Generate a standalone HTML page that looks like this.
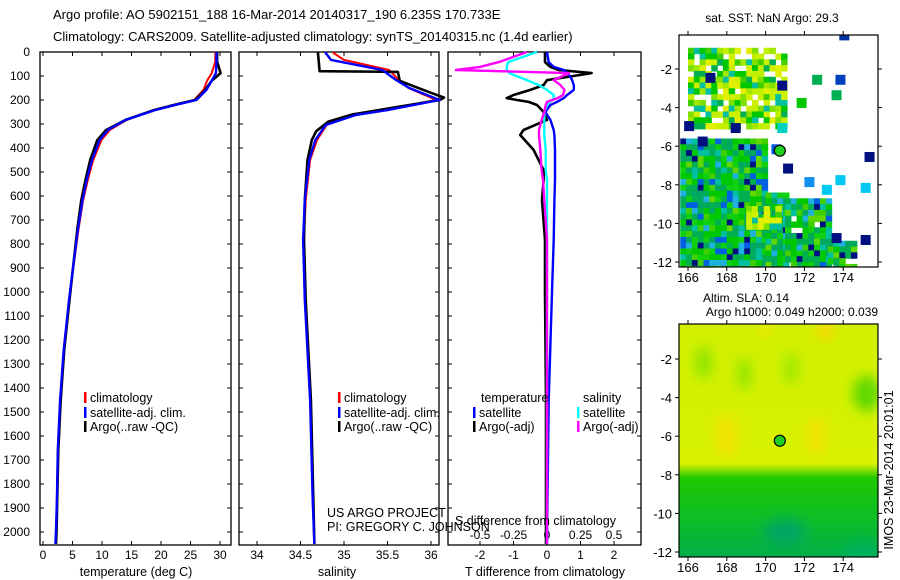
<!DOCTYPE html>
<html><head><meta charset="utf-8"><style>
html,body{margin:0;padding:0;background:#fff;}
svg{display:block;font-family:"Liberation Sans",sans-serif;}
text{fill:#000;}
</style></head><body>
<svg id="c" width="900" height="580" viewBox="0 0 900 580" xmlns="http://www.w3.org/2000/svg">
<text x="53" y="19" font-size="13">Argo profile: AO 5902151_188 16-Mar-2014 20140317_190 6.235S 170.733E</text>
<text x="53" y="41" font-size="13">Climatology: CARS2009. Satellite-adjusted climatology: synTS_20140315.nc (1.4d earlier)</text>
<g id="g"></g>
</svg>
<script>
const depthT=[0,40,88,120,158,200,220,242,283,325,367,450,533,617,742,1033,1242,1450,1658,1867,1992,2050];
const tempAdj=[29.4,29.4,29.3,28.6,27.7,26,22.5,19,14,11,9.6,8.3,7.4,6.7,5.9,4.4,3.5,2.9,2.5,2.35,2.2,2.1];
const tempClim=[29.2,29.2,28.6,27.8,27.2,25.6,22.2,18.8,14.2,11.3,9.9,8.5,7.6,6.8,6.0,4.4,3.5,2.9,2.5,2.35,2.2,2.1];
const tempArgo=[29.5,29.5,30.1,28.6,27.5,25.8,22.3,18.8,14.0,10.7,9.2,8.0,7.2,6.5,5.8,4.5,3.6,3.0,2.6,2.4,2.3,2.2];
const depthS=[0,4,33,75,117,150,200,242,262,304,367,450,617,783,1033,1450,1867,2050];
const salAdj=[34.79,34.79,34.85,35.44,35.6,35.75,36.1,35.5,35.14,34.79,34.67,34.6,34.55,34.53,34.55,34.61,34.64,34.66];
const salClim=[34.88,34.88,35.0,35.52,35.63,35.74,36.06,35.45,35.1,34.8,34.69,34.61,34.56,34.54,34.55,34.61,34.64,34.66];
const depthSA=[0,80,83,120,140,170,190,200,230,260,290,330,367,450,617,783,1033,1450,2050];
const salArgo=[34.70,34.72,35.62,35.64,35.78,36.0,36.15,36.1,35.6,35.1,34.82,34.68,34.63,34.58,34.55,34.54,34.56,34.62,34.66];
const depthD=[0,42,62,75,88,104,117,138,158,179,192,200,208,221,250,283,325,346,408,492,533,617,783,1000,1450,2050];
const dTsat=[0,0.05,0.2,0.5,0.6,0.7,0.75,0.8,0.8,0.6,0.5,0.4,0.3,0.1,-0.05,0.1,0.2,0.22,0.24,0.24,0.24,0.22,0.2,0.15,0.05,0];
const dTargo=[-0.06,-0.06,0.1,0.36,1.33,0.6,0,-0.1,-0.5,-1.0,-1.2,-0.9,-0.55,-0.3,-0.1,0,-0.7,-0.8,-0.4,-0.1,-0.1,-0.15,-0.06,-0.06,-0.03,-0.03];
const dSsat=[-0.075,-0.29,-0.3,-0.3,-0.28,-0.21,-0.15,-0.06,0.0,0.05,0.05,0.04,0.02,0,-0.02,-0.02,-0.02,-0.02,-0.01,-0.01,0,0,0,0,0,0];
const dSargo=[-0.15,-0.36,-0.5,-0.68,0.165,0.1,0.05,0.1,0.13,0.12,0.08,0.04,0.0,-0.01,-0.02,-0.04,-0.06,-0.06,-0.05,-0.04,-0.03,-0.02,0,0,0,0];
const depthTicks=[0,100,200,300,400,500,600,700,800,900,1000,1100,1200,1300,1400,1500,1600,1700,1800,1900,2000];
const tempTicks=[0,5,10,15,20,25,30];
const salTicks=[34,34.5,35,35.5,36];
const dTTicks=[-2,-1,0,1,2];
const dSTicks=[-0.5,-0.25,0,0.25,0.5];
const mapLatTicks=[-2,-4,-6,-8,-10,-12];
const mapLonTicks=[166,168,170,172,174];
const floatLon=170.733, floatLat=-6.235;

const NS="http://www.w3.org/2000/svg";
const G=document.getElementById('g');
function el(t,a,p){const e=document.createElementNS(NS,t);for(const k in a)e.setAttribute(k,a[k]);(p||G).appendChild(e);return e;}
const yD=d=>52+d*0.24;
const xT=t=>43+5.9*t;
const xS=s=>257+87*(s-34);
const xDT=t=>547+33.5*t;
const xDS=s=>547+134*s;

const panels=[[40,231,'temperature-panel'],[239,439,'salinity-panel'],[448,641,'difference-panel']];
panels.forEach(p=>{
  const r=el('rect',{x:p[0],y:52,width:p[1]-p[0],height:493,fill:'none',stroke:'#000','stroke-width':1.3});
  
  
  depthTicks.forEach(d=>{
    el('line',{x1:p[0],x2:p[0]+4,y1:yD(d),y2:yD(d),stroke:'#000'});
    el('line',{x1:p[1],x2:p[1]-4,y1:yD(d),y2:yD(d),stroke:'#000'});
  });
});
depthTicks.forEach(d=>{
  const t=el('text',{x:30,y:yD(d)+4,'font-size':12,'text-anchor':'end'});t.textContent=d;
  
  
});
function xticks(arr,fx,y,labels,fs){
  arr.forEach((v,i)=>{
    el('line',{x1:fx(v),x2:fx(v),y1:545,y2:541,stroke:'#000'});
    el('line',{x1:fx(v),x2:fx(v),y1:52,y2:56,stroke:'#000'});
    if(labels){const t=el('text',{x:fx(v),y:y,'font-size':fs||12,'text-anchor':'middle'});t.textContent=labels[i];
    
    }
  });
}
xticks(tempTicks,xT,559,tempTicks);
xticks(salTicks,xS,559,salTicks);
xticks(dTTicks,xDT,559,dTTicks);
dSTicks.forEach(v=>{const t=el('text',{x:xDS(v),y:539,'font-size':12,'text-anchor':'middle'});t.textContent=v;
  
  });

function line(ds,vs,fx,col,w,name){
  const pts=ds.map((d,i)=>fx(vs[i]).toFixed(1)+','+yD(d).toFixed(1)).join(' ');
  const e=el('polyline',{points:pts,fill:'none',stroke:col,'stroke-width':w,'stroke-linejoin':'round'});
  
  
}
line(depthT,tempClim,xT,'#ff0000',2,'temp-climatology-line');
line(depthT,tempArgo,xT,'#000',2.6,'temp-argo-line');
line(depthT,tempAdj,xT,'#0000ff',2.4,'temp-satellite-adj-line');
line(depthS,salClim,xS,'#ff0000',2,'sal-climatology-line');
line(depthSA,salArgo,xS,'#000',2.6,'sal-argo-line');
line(depthS,salAdj,xS,'#0000ff',2.4,'sal-satellite-adj-line');
line(depthD,dTargo,xDT,'#000',2.6,'t-diff-argo-line');
line(depthD,dTsat,xDT,'#0000ff',2.4,'t-diff-satellite-line');
line(depthD,dSsat,xDS,'#00ffff',2.4,'s-diff-satellite-line');
line(depthD,dSargo,xDS,'#ff00ff',2.4,'s-diff-argo-line');

function txt(x,y,s,fs,name,anchor){const t=el('text',{x:x,y:y,'font-size':fs,'text-anchor':anchor||'start'});t.textContent=s;
  
  return t;}
function legend(x,y,col,s,name){el('rect',{x:x-6,y:y-10,width:2.5,height:11,fill:col});txt(x,y,s,12.5,name);}
[[90],[344]].forEach(([lx])=>{
  legend(lx,402,'#ff0000','climatology','legend-climatology');
  legend(lx,417,'#0000ff','satellite-adj. clim.','legend-satellite-adj');
  legend(lx,431,'#000','Argo(..raw -QC)','legend-argo');
});
txt(481,402,'temperature',12.5,'legend-temperature-heading');
legend(479,417,'#0000ff','satellite','legend-t-satellite');
legend(479,431,'#000','Argo(-adj)','legend-t-argo');
txt(583,402,'salinity',12.5,'legend-salinity-heading');
legend(583,417,'#00ffff','satellite','legend-s-satellite');
legend(583,431,'#ff00ff','Argo(-adj)','legend-s-argo');
txt(327,517,'US ARGO PROJECT',12.5,'project-credit');
txt(327,531,'PI: GREGORY C. JOHNSON',12.5,'pi-credit');
txt(455,525,'S difference from climatology',12.5,'s-diff-axis-title');
txt(136,576,'temperature (deg C)',12.5,'temp-axis-title','middle');
txt(337,576,'salinity',12.5,'sal-axis-title','middle');
txt(545,576,'T difference from climatology',12.5,'t-diff-axis-title','middle');

/* maps */
const mx=lon=>688+(lon-166)*19.4;
const myA=lat=>69+(-2-lat)*19.3;
const myB=lat=>359+(-2-lat)*19.3;
const cp=el('clipPath',{id:'cpA'});el('rect',{x:679,y:35,width:199,height:232},cp);
const cpb=el('clipPath',{id:'cpB'});el('rect',{x:679,y:324,width:199,height:233},cpb);
const gA=el('g',{'clip-path':'url(#cpA)'});


const pal=['#00c800','#00b050','#10d010','#40d000','#00a860','#00c800','#00b050','#00c800','#00b050','#60d800','#00c0a0','#10d010','#20b0e0','#00a860','#0060e0','#001080'];
const palY=['#c0f000','#e0f000','#a0e800','#00c800','#80e000','#c8f000','#40d000','#00b050','#d0f000','#00c0a0'];
function h(i,j){let v=(i*73856093)^(j*19349663);v=(v^(v>>13))*1274126177;return Math.abs(v^(v>>16));}
function cells(lo0,lo1,la0,la1,step,fill,palette){
  for(let lo=lo0;lo<lo1;lo+=step)for(let la=la1;la>la0;la-=step){
    const k=h(Math.round(lo*8),Math.round(la*8));
    if((k%100)/100>fill)continue;
    el('rect',{x:mx(lo),y:myA(la),width:step*19.4+0.6,height:step*19.3+0.6,fill:palette[k%palette.length]},gA);
  }
}
cells(165.6,170.0,-12.4,-5.6,0.3,1.0,pal);
cells(170.0,171.0,-12.4,-8.4,0.3,1.0,pal);
cells(171.0,173.2,-12.4,-8.7,0.3,0.95,pal);
cells(173.2,174.6,-12.4,-10.9,0.3,0.9,pal);
cells(169,170.6,-10.2,-9.1,0.3,0.9,palY);
cells(166,171.1,-4.9,-0.9,0.3,0.8,palY);
[[165.8,-4.7,'#001080'],[166.5,-5.5,'#001080'],[168.2,-4.8,'#001080'],[170.3,-5.9,'#0060e0'],[170.9,-6.9,'#001080'],[172,-7.6,'#1090f0'],[173.6,-7.5,'#00c8f0'],[175.1,-6.3,'#001080'],[172.9,-8.0,'#00c8f0'],[174.9,-7.9,'#00c8f0'],[173.6,-2.3,'#0040c0'],[172.4,-2.3,'#00b050'],[173.4,-3.1,'#00b050'],[171.6,-3.5,'#00c800'],[173.8,0.0,'#0030a0'],[170.6,-4.8,'#00d0c0'],[174.9,-10.6,'#001080'],[173.4,-10.5,'#001080'],[166.9,-2.2,'#001080'],[170.6,-2.6,'#001080']].forEach(b=>{
  el('rect',{x:mx(b[0]),y:myA(b[1]),width:10,height:10,fill:b[2]},gA);
});
const gB=el('g',{'clip-path':'url(#cpB)'});


const df=el('defs',{});const lg=el('linearGradient',{id:'lgB',x1:0,y1:0,x2:0,y2:1},df);
[[0,'#d0f000'],[0.6,'#d8f200'],[0.66,'#20c800'],[0.8,'#10c020'],[1,'#00b048']].forEach(s=>el('stop',{offset:s[0],'stop-color':s[1]},lg));
const fb=el('filter',{id:'blur',x:'-50%',y:'-50%',width:'200%',height:'200%'},df);el('feGaussianBlur',{stdDeviation:6},fb);
el('rect',{x:679,y:324,width:199,height:233,fill:'url(#lgB)'},gB);
const gBl=el('g',{filter:'url(#blur)'},gB);
[[166.8,-2.2,9,16,'#90e400'],[168.9,-2.8,7,16,'#90e400'],[171.3,-2.5,8,16,'#a0e800'],[175.2,-3.8,14,18,'#60d800'],[168,-6,12,22,'#f0e400'],[172.6,-6,10,20,'#f0e400'],[173.1,-0.5,10,10,'#f4d800'],[170,-0.4,8,8,'#f0e800'],[171,-11,22,14,'#00a860'],[175,-12,20,10,'#00b060']].forEach(b=>{
  el('ellipse',{cx:mx(b[0]),cy:myB(b[1]),rx:b[2],ry:b[3],fill:b[4]},gBl);
});
[[myA,35,267,'sst-map-frame'],[myB,324,557,'sla-map-frame']].forEach(f=>{
  const my=f[0];
  const r=el('rect',{x:679,y:f[1],width:199,height:f[2]-f[1],fill:'none',stroke:'#000','stroke-width':1.2});
  
  
  mapLatTicks.forEach(la=>{
    el('line',{x1:679,x2:675,y1:my(la),y2:my(la),stroke:'#000'});
    el('line',{x1:878,x2:882,y1:my(la),y2:my(la),stroke:'#000'});
    txt(672,my(la)+5,la,13,'map-lat-label','end');
  });
  mapLonTicks.forEach(lo=>{
    el('line',{x1:mx(lo),x2:mx(lo),y1:f[1],y2:f[1]-4,stroke:'#000'});
    el('line',{x1:mx(lo),x2:mx(lo),y1:f[2],y2:f[2]+4,stroke:'#000'});
    txt(mx(lo),f[2]+15,lo,13,'map-lon-label','middle');
  });
  const c=el('circle',{cx:mx(floatLon),cy:my(floatLat),r:5.5,fill:'#20d020',stroke:'#000','stroke-width':1.2});
  
  
});
txt(772,22,'sat. SST: NaN Argo: 29.3',12,'sst-map-title','middle');
txt(746,302,'Altim. SLA: 0.14',12,'sla-map-title','middle');
txt(792,316,'Argo h1000: 0.049 h2000: 0.039',12,'argo-height-title','middle');
const im=txt(0,0,'IMOS 23-Mar-2014 20:01:01',12.5,'imos-timestamp','middle');
im.setAttribute('transform','translate(893,470) rotate(-90)');
</script>
</body></html>
